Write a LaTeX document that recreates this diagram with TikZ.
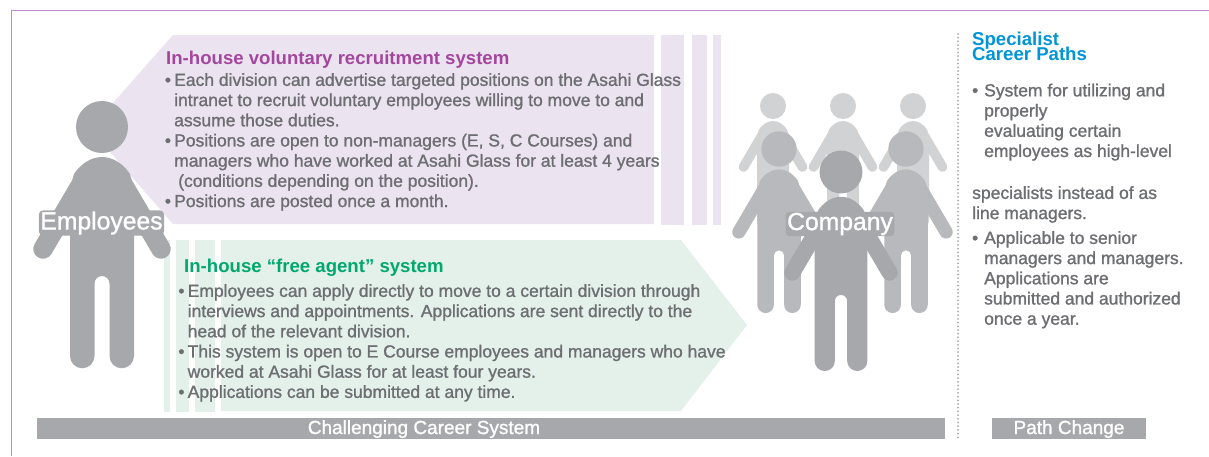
\documentclass[tikz,border=0pt]{standalone}
\usepackage{fontspec}
\setmainfont{Liberation Sans}
\newfontfamily\medf[FakeBold=1.2]{Liberation Sans}
\definecolor{figA}{HTML}{A7A8AB}
\definecolor{figB}{HTML}{B8B9BC}
\definecolor{figC}{HTML}{D1D2D4}
\definecolor{lilac}{HTML}{ECE3F0}
\definecolor{mint}{HTML}{E4F1EB}
\definecolor{frameC}{HTML}{B98BC9}
\definecolor{bodyC}{HTML}{6D6E71}
\definecolor{headP}{HTML}{A3479E}
\definecolor{headG}{HTML}{00A870}
\definecolor{headB}{HTML}{0095D6}
\newcommand{\personfig}[4]{%
  \begin{scope}[shift={(#1,#2)},scale=#3]
    \fill[#4] (0,0) circle[radius=26];
    \fill[#4] (-32,62) -- (-28,47) .. controls (-22,38) and (-12,30) .. (0,30)
      .. controls (12,30) and (22,38) .. (28,47) -- (32,62)
      -- (32,229) arc[start angle=0,end angle=180,radius=12.25]
      -- (7.5,156.5) arc[start angle=0,end angle=-180,radius=7.5]
      -- (-7.5,229) arc[start angle=0,end angle=180,radius=12.25]
      -- cycle;
    \draw[#4,line width=19.5*#3pt,line cap=round] (19,54) -- (59,122);
    \draw[#4,line width=19.5*#3pt,line cap=round] (-19,54) -- (-59,122);
  \end{scope}}
\newcommand{\bul}[1][3.2pt]{\llap{•\hspace{#1}}}
\tikzset{
  txt/.style={inner sep=0pt,anchor=north west,align=left,text=bodyC,font=\fontsize{17.5}{20.2}\selectfont\medf},
  headtxt/.style={inner sep=0pt,anchor=base west,font=\fontsize{18.6}{16}\selectfont\bfseries},
  bartxt/.style={inner sep=0pt,anchor=base,text=white,font=\fontsize{19}{20}\selectfont\medf},
  figlabel/.style={text=white,fill=figA,rounded corners=4pt,inner xsep=1.5pt,inner ysep=1pt,font=\fontsize{24.7}{26}\selectfont\medf},
  barfill/.style={fill=figA}
}
\begin{document}
\begin{tikzpicture}[x=1pt,y=-1pt]
\useasboundingbox (0,0) rectangle (1209,456);
\fill[white] (0,0) rectangle (1209,456);
% frame
\draw[frameC,line width=1pt] (1209,10.5) -- (11.5,10.5) -- (11.5,456);
% purple arrow
\fill[lilac] (173,35) -- (654,35) -- (654,224) -- (173,224) -- (90,129) -- cycle;
\fill[lilac] (661,35) rectangle (684,225);
\fill[lilac] (692,35) rectangle (707,225);
\fill[lilac] (713,35) rectangle (721,225);
% green arrow
\fill[mint] (221,240) -- (681,240) -- (747,325) -- (681,411) -- (221,411) -- cycle;
\fill[mint] (164,240) rectangle (170,412);
\fill[mint] (176,240) rectangle (189,412);
\fill[mint] (195,240) rectangle (215,412);
% figures
\personfig{102}{127}{1}{figA}
\personfig{773}{106}{0.5}{figC}
\personfig{843}{106}{0.5}{figC}
\personfig{913}{106}{0.5}{figC}
\personfig{779}{149}{0.68}{figB}
\personfig{906}{149}{0.68}{figB}
\personfig{841}{172}{0.825}{figA}
\node[figlabel] (employees) at (101.5,223) {Employees};
\node[figlabel] (company) at (840,224) {Company};
% purple text
\node[headtxt,text=headP] (voltitle) at (166,64) {In-house voluntary recruitment system};
\node[txt] (voltext) at (174,73) {\bul Each division can advertise targeted positions on the Asahi Glass\\
intranet to recruit voluntary employees willing to move to and\\
assume those duties.\\
\bul Positions are open to non-managers (E, S, C Courses) and\\
managers who have worked at Asahi Glass for at least 4 years\\
\hspace{4pt}(conditions depending on the position).\\
\bul Positions are posted once a month.};
% green text
\node[headtxt,text=headG] (freetitle) at (184,272) {In-house “free agent” system};
\node[txt] (freetext) at (187.5,284) {\bul Employees can apply directly to move to a certain division through\\
interviews and appointments. Applications are sent directly to the\\
head of the relevant division.\\
\bul This system is open to E Course employees and managers who have\\
worked at Asahi Glass for at least four years.\\
\bul Applications can be submitted at any time.};
% bars
\fill[barfill] (37,418) rectangle (945,439);
\fill[barfill] (992,418) rectangle (1146,439);
\node[bartxt] (challenging) at (424,434) {Challenging Career System};
\node[bartxt] (pathchange) at (1069,434) {Path Change};
% dotted divider
\draw[figA,line width=2pt,line cap=round,dash pattern=on 0pt off 3.7pt] (958,34) -- (958,439);
% right column
\node[inner sep=0pt,anchor=north west,align=left,text=headB,font=\fontsize{18.6}{16}\selectfont\bfseries] (spec) at (972,31.7) {Specialist\\[-3pt]Career Paths};
\node[txt] (sptext1) at (984,83.5) {\bul[6pt]System for utilizing and\\
properly\\
evaluating certain\\
employees as high-level};
\node[txt] (sptext2) at (972,186) {specialists instead of as\\
line managers.};
\node[txt] (sptext3) at (984,231) {\bul[6pt]Applicable to senior\\
managers and managers.\\
Applications are\\
submitted and authorized\\
once a year.};
\end{tikzpicture}
\end{document}
